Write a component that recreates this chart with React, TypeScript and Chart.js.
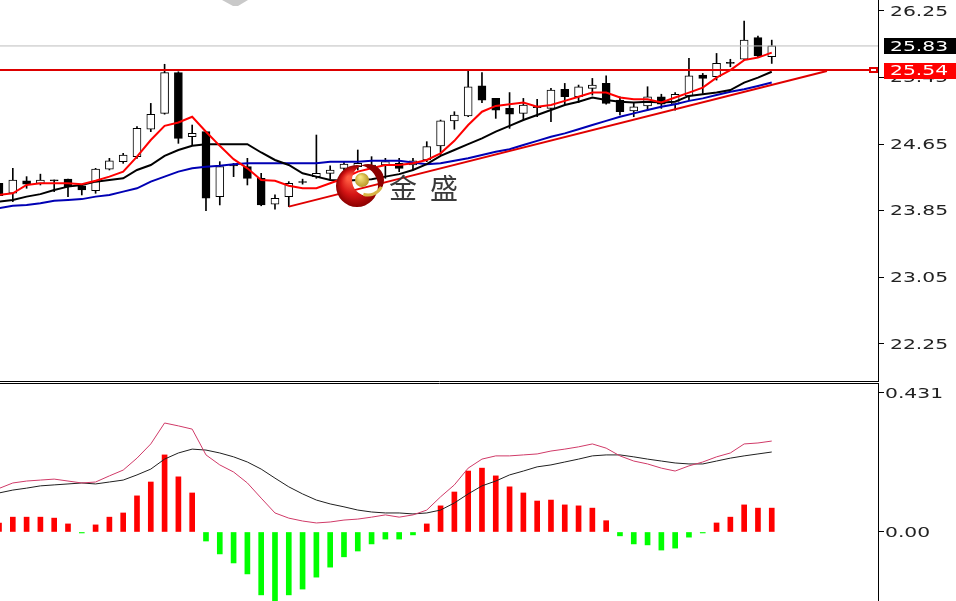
import { useEffect, useRef } from 'react';
import { Chart, registerables } from 'chart.js';

Chart.register(...registerables);

// ---------- DATA ----------
const opens = [
  24.18, 24.06, 24.21, 24.18, 24.22, 24.23, 24.15, 24.09, 24.35, 24.44,
  24.50, 24.83, 25.02, 25.51, 24.74, 24.80, 24.02, 24.40, 24.38, 24.24,
  23.93, 24.02, 24.20, 24.26, 24.30, 24.36, 24.38, 24.36, 24.40, 24.42,
  24.40, 24.46, 24.63, 24.93, 24.99, 25.35, 25.20, 25.08, 25.02, 25.10,
  25.08, 25.31, 25.22, 25.32, 25.38, 25.18, 25.05, 25.11, 25.22, 25.13,
  25.23, 25.48, 25.46, 25.63, 25.67, 25.93, 25.70,
];
const closes = [
  24.03, 24.22, 24.17, 24.22, 24.21, 24.14, 24.10, 24.35, 24.45, 24.52,
  24.84, 25.01, 25.51, 24.72, 24.78, 24.00, 24.38, 24.39, 24.24, 23.92,
  24.00, 24.18, 24.19, 24.30, 24.34, 24.41, 24.42, 24.40, 24.44, 24.36,
  24.45, 24.62, 24.93, 25.00, 25.34, 25.18, 25.06, 25.01, 25.12, 25.09,
  25.30, 25.22, 25.34, 25.36, 25.14, 25.04, 25.10, 25.22, 25.13, 25.25,
  25.47, 25.44, 25.62, 25.62, 25.90, 25.71, 25.83,
];
const highs = [
  24.20, 24.36, 24.26, 24.29, 24.22, 24.23, 24.16, 24.36, 24.48, 24.54,
  24.86, 25.14, 25.61, 25.52, 24.88, 24.80, 24.44, 24.42, 24.48, 24.30,
  24.04, 24.20, 24.23, 24.76, 24.39, 24.44, 24.58, 24.50, 24.48, 24.48,
  24.48, 24.68, 24.94, 25.04, 25.54, 25.51, 25.20, 25.27, 25.20, 25.19,
  25.32, 25.38, 25.36, 25.44, 25.47, 25.22, 25.14, 25.34, 25.25, 25.27,
  25.68, 25.50, 25.74, 25.67, 26.13, 25.95, 25.90,
];
const lows = [
  24.01, 23.96, 24.12, 24.16, 24.08, 24.02, 24.04, 24.06, 24.34, 24.42,
  24.48, 24.80, 25.01, 24.66, 24.64, 23.85, 23.92, 24.26, 24.16, 23.91,
  23.87, 23.90, 24.17, 24.24, 24.23, 24.34, 24.34, 24.34, 24.24, 24.32,
  24.34, 24.44, 24.52, 24.83, 24.98, 25.15, 24.96, 24.84, 24.94, 24.98,
  24.92, 25.12, 25.15, 25.24, 25.13, 25.00, 24.98, 25.06, 25.08, 25.06,
  25.18, 25.26, 25.42, 25.58, 25.66, 25.70, 25.62,
];
const maFast = [
  24.04, 24.06, 24.16, 24.18, 24.18, 24.18, 24.17, 24.21, 24.26, 24.32,
  24.50, 24.70, 24.87, 24.91, 24.98, 24.80, 24.63, 24.47, 24.36, 24.22,
  24.21, 24.15, 24.12, 24.12, 24.18, 24.24, 24.32, 24.36, 24.40, 24.40,
  24.42, 24.46, 24.54, 24.69, 24.88, 25.04, 25.11, 25.13, 25.15, 25.10,
  25.12, 25.17, 25.22, 25.27, 25.27, 25.21, 25.19, 25.19, 25.15, 25.21,
  25.27, 25.33, 25.45, 25.54, 25.66, 25.69, 25.75,
];
const maMid = [
  23.96, 23.98, 24.02, 24.05, 24.10, 24.14, 24.16, 24.20, 24.22, 24.24,
  24.34, 24.40, 24.51, 24.58, 24.63, 24.65, 24.65, 24.65, 24.65, 24.55,
  24.46, 24.40, 24.30, 24.26, 24.22, 24.21, 24.22, 24.23, 24.26, 24.29,
  24.34, 24.41, 24.51, 24.58, 24.65, 24.72, 24.80, 24.87, 24.94, 25.00,
  25.06, 25.12, 25.16, 25.21, 25.18, 25.16, 25.15, 25.16, 25.15, 25.16,
  25.23, 25.25, 25.27, 25.30, 25.39, 25.45, 25.52,
];
const maSlow = [
  23.88, 23.91, 23.92, 23.94, 23.97, 23.98, 23.99, 24.02, 24.04, 24.08,
  24.12, 24.20, 24.26, 24.32, 24.36, 24.38, 24.39, 24.41, 24.42, 24.42,
  24.42, 24.42, 24.42, 24.42, 24.44, 24.44, 24.44, 24.45, 24.45, 24.45,
  24.43, 24.41, 24.42, 24.45, 24.48, 24.52, 24.56, 24.59, 24.64, 24.69,
  24.74, 24.78, 24.83, 24.88, 24.93, 24.98, 25.02, 25.06, 25.10, 25.13,
  25.17, 25.20, 25.24, 25.28, 25.31, 25.35, 25.39,
];
const macdHist = [
  0.028, 0.046, 0.046, 0.046, 0.043, 0.025, -0.003, 0.022, 0.046, 0.059,
  0.112, 0.155, 0.239, 0.171, 0.121, -0.028, -0.068, -0.096, -0.130, -0.195,
  -0.22, -0.195, -0.177, -0.140, -0.109, -0.077, -0.059, -0.037, -0.022, -0.022,
  -0.009, 0.025, 0.081, 0.124, 0.189, 0.198, 0.174, 0.140, 0.121, 0.096,
  0.099, 0.084, 0.081, 0.074, 0.035, -0.012, -0.037, -0.040, -0.056, -0.050,
  -0.016, -0.003, 0.028, 0.046, 0.084, 0.074, 0.074,
];
const macdDif = [
  0.135, 0.152, 0.158, 0.161, 0.164, 0.158, 0.152, 0.155, 0.174, 0.192,
  0.229, 0.273, 0.338, 0.329, 0.319, 0.239, 0.208, 0.186, 0.152, 0.105,
  0.059, 0.043, 0.034, 0.028, 0.031, 0.037, 0.040, 0.046, 0.053, 0.046,
  0.053, 0.068, 0.109, 0.146, 0.198, 0.226, 0.236, 0.236, 0.239, 0.242,
  0.251, 0.257, 0.264, 0.273, 0.260, 0.236, 0.220, 0.211, 0.198, 0.189,
  0.205, 0.217, 0.233, 0.245, 0.273, 0.276, 0.282,
];
const macdDea = [
  0.121, 0.130, 0.136, 0.143, 0.146, 0.149, 0.152, 0.149, 0.155, 0.161,
  0.177, 0.195, 0.226, 0.245, 0.257, 0.254, 0.245, 0.233, 0.217, 0.195,
  0.167, 0.140, 0.118, 0.099, 0.087, 0.078, 0.068, 0.062, 0.059, 0.059,
  0.056, 0.059, 0.068, 0.090, 0.118, 0.143, 0.158, 0.177, 0.189, 0.202,
  0.208, 0.217, 0.226, 0.236, 0.239, 0.239, 0.233, 0.226, 0.220, 0.214,
  0.211, 0.211, 0.220, 0.229, 0.236, 0.242, 0.248,
];
const priceTicks = [22.25, 23.05, 23.85, 24.65, 25.45, 26.25];
const macdTicks = [0, 0.431];
const macdTickLabels = ['0.00', '0.431'];
const lastPrice = 25.83;
const levelPrice = 25.54;
const trendStart = { x: 21, y: 23.9 };
const trendEnd = { x: 60, y: 25.53 };
const logoText = ['金', '盛'];

// ---------- LAYOUT ----------
const X_MIN = 0.0725;
const X_MAX = 63.7;
const AXIS_W = 78;

const idx = opens.map((_, i) => i);

function stretchText(ctx: CanvasRenderingContext2D, text: string, x: number, y: number, color: string) {
  ctx.save();
  ctx.translate(x, y);
  ctx.scale(1.45, 1);
  ctx.font = '14px "DejaVu Sans"';
  ctx.textBaseline = 'middle';
  ctx.textAlign = 'left';
  ctx.fillStyle = color;
  ctx.fillText(text, 0, 0);
  ctx.restore();
}

function drawLogo(ctx: CanvasRenderingContext2D) {
  const cx = 357, cy = 186, r = 21;
  ctx.save();
  // red crescent: draw the disc, cut the upper-right part out
  ctx.beginPath();
  ctx.arc(cx, cy, r, 0, Math.PI * 2);
  ctx.arc(cx + 11, cy - 6, 16, 0, Math.PI * 2, true);
  ctx.closePath();
  const g = ctx.createRadialGradient(cx - 8, cy - 8, 2, cx, cy, r);
  g.addColorStop(0, '#ff5a40');
  g.addColorStop(0.55, '#d41414');
  g.addColorStop(1, '#8c0000');
  ctx.fillStyle = g;
  ctx.fill('evenodd');
  // gold rim on inner lower edge
  ctx.strokeStyle = '#d9b446';
  ctx.lineWidth = 3;
  ctx.beginPath();
  ctx.arc(cx + 11, cy - 6, 15, 0.15 * Math.PI, 0.6 * Math.PI);
  ctx.stroke();
  // gold ball
  const g2 = ctx.createRadialGradient(cx + 3, cy - 9, 1, cx + 5, cy - 6, 8);
  g2.addColorStop(0, '#f7e47e');
  g2.addColorStop(1, '#b38f1c');
  ctx.fillStyle = g2;
  ctx.beginPath();
  ctx.arc(cx + 5, cy - 6, 7, 0, Math.PI * 2);
  ctx.fill();
  // text
  ctx.fillStyle = '#3a3a3a';
  ctx.font = '28px "Noto Sans CJK SC"';
  ctx.textBaseline = 'middle';
  ctx.textAlign = 'left';
  ctx.fillText(logoText[0], 389, 188);
  ctx.fillText(logoText[1], 430, 188);
  ctx.restore();
}

const pricePlugin = {
  id: 'priceDecor',
  afterDraw(chart: any) {
    const { ctx } = chart;
    const y = chart.scales.y;
    ctx.save();
    // bottom border of the price pane
    ctx.strokeStyle = '#000';
    ctx.lineWidth = 1;
    ctx.beginPath();
    ctx.moveTo(0, 381.5);
    ctx.lineTo(879, 381.5);
    ctx.stroke();
    // gray chevron at top
    ctx.fillStyle = '#c9c9c9';
    ctx.beginPath();
    ctx.moveTo(222, 0);
    ctx.lineTo(248, 0);
    ctx.lineTo(238, 6);
    ctx.lineTo(233, 6);
    ctx.closePath();
    ctx.fill();
    // tick labels
    priceTicks.forEach((v) => stretchText(ctx, v.toFixed(2), 890, y.getPixelForValue(v) + 1, '#222'));
    // last price box
    const yl = y.getPixelForValue(lastPrice);
    ctx.fillStyle = '#000';
    ctx.fillRect(884, Math.round(yl) - 8, 72, 16);
    stretchText(ctx, lastPrice.toFixed(2), 890, yl + 1, '#fff');
    // level box
    const yr = y.getPixelForValue(levelPrice);
    ctx.fillStyle = '#ff0000';
    ctx.fillRect(884, Math.round(yr) - 7, 72, 16);
    stretchText(ctx, levelPrice.toFixed(2), 890, yr + 1, '#fff');
    ctx.strokeStyle = '#e00000';
    ctx.lineWidth = 2;
    ctx.fillStyle = '#fff';
    ctx.fillRect(870, Math.round(yr) - 2, 7, 4);
    ctx.strokeRect(870, Math.round(yr) - 2, 7, 4);
    ctx.restore();
    drawLogo(ctx);
  },
};

const macdPlugin = {
  id: 'macdDecor',
  afterDraw(chart: any) {
    const { ctx } = chart;
    const y = chart.scales.y;
    ctx.save();
    ctx.strokeStyle = '#000';
    ctx.lineWidth = 1;
    ctx.beginPath();
    ctx.moveTo(0, 0.5);
    ctx.lineTo(879, 0.5);
    ctx.stroke();
    macdTicks.forEach((v, i) => stretchText(ctx, macdTickLabels[i], 885, y.getPixelForValue(v) + 1, '#222'));
    ctx.restore();
  },
};

function yAxis(min: number, max: number, ticks: number[]) {
  return {
    position: 'right',
    min,
    max,
    afterBuildTicks: (s: any) => {
      s.ticks = ticks.map((v) => ({ value: v }));
    },
    afterFit: (s: any) => {
      s.width = AXIS_W;
    },
    ticks: { display: false },
    grid: { drawOnChartArea: false, drawTicks: true, tickLength: 6, color: '#000', lineWidth: 1 },
    border: { display: true, color: '#000', width: 1 },
  };
}

const xAxis = {
  type: 'linear',
  min: X_MIN,
  max: X_MAX,
  offset: false,
  display: false,
  grid: { display: false, offset: false },
};

export default function App() {
  const priceRef = useRef<HTMLCanvasElement>(null);
  const macdRef = useRef<HTMLCanvasElement>(null);

  useEffect(() => {
    const line = (data: number[], color: string, width: number, order: number) => ({
      type: 'line',
      data: idx.map((i) => ({ x: i, y: data[i] })),
      borderColor: color,
      borderWidth: width,
      pointRadius: 0,
      tension: 0,
      fill: false,
      order,
    });

    const price = new Chart(priceRef.current as HTMLCanvasElement, {
      type: 'bar',
      data: {
        datasets: [
          {
            type: 'line',
            data: [trendStart, trendEnd],
            borderColor: '#e00000',
            borderWidth: 2,
            pointRadius: 0,
            order: 0,
          },
          line(maFast, '#ff0000', 2, 1),
          line(maMid, '#000000', 2, 2),
          line(maSlow, '#0000b4', 2, 3),
          {
            type: 'line',
            data: [
              { x: X_MIN, y: levelPrice },
              { x: X_MAX, y: levelPrice },
            ],
            borderColor: '#dd0000',
            borderWidth: 2,
            pointRadius: 0,
            order: 5,
          },
          {
            type: 'line',
            data: [
              { x: X_MIN, y: lastPrice },
              { x: X_MAX, y: lastPrice },
            ],
            borderColor: '#bdbdbd',
            borderWidth: 1,
            pointRadius: 0,
            order: 9,
          },
          {
            type: 'bar',
            data: idx.map((i) => ({ x: i, y: [opens[i], closes[i]] })),
            backgroundColor: idx.map((i) => (closes[i] > opens[i] ? '#ffffff' : '#000000')),
            borderColor: '#000000',
            borderWidth: 1,
            borderSkipped: false,
            barThickness: 8,
            minBarLength: 1,
            grouped: false,
            order: 10,
          },
          {
            type: 'bar',
            data: idx.map((i) => ({ x: i, y: [lows[i], highs[i]] })),
            backgroundColor: '#000000',
            borderWidth: 0,
            barThickness: 1,
            grouped: false,
            order: 11,
          },
        ],
      } as any,
      options: {
        animation: false,
        responsive: false,
        events: [],
        layout: { padding: 0 },
        plugins: { legend: { display: false }, tooltip: { enabled: false } },
        scales: {
          x: xAxis,
          y: yAxis(21.793, 26.382, priceTicks),
        },
      } as any,
      plugins: [pricePlugin],
    });

    const macd = new Chart(macdRef.current as HTMLCanvasElement, {
      type: 'bar',
      data: {
        datasets: [
          line(macdDif, '#d03a68', 1, 0),
          line(macdDea, '#202020', 1, 1),
          {
            type: 'bar',
            data: idx.map((i) => ({ x: i, y: macdHist[i] })),
            backgroundColor: idx.map((i) => (macdHist[i] >= 0 ? '#ff0000' : '#00ff00')),
            borderWidth: 0,
            barThickness: 5,
            grouped: false,
            order: 5,
          },
        ],
      } as any,
      options: {
        animation: false,
        responsive: false,
        events: [],
        layout: { padding: 0 },
        plugins: { legend: { display: false }, tooltip: { enabled: false } },
        scales: {
          x: xAxis,
          y: yAxis(-0.214, 0.462, macdTicks),
        },
      } as any,
      plugins: [macdPlugin],
    });

    return () => {
      price.destroy();
      macd.destroy();
    };
  }, []);

  return (
    <div style={{ position: 'absolute', left: 0, top: 0, width: 956, height: 601, background: '#fff', overflow: 'hidden' }}>
      <canvas ref={priceRef} width={956} height={382} style={{ position: 'absolute', left: 0, top: 0 }} />
      <canvas ref={macdRef} width={956} height={218} style={{ position: 'absolute', left: 0, top: 383 }} />
    </div>
  );
}
